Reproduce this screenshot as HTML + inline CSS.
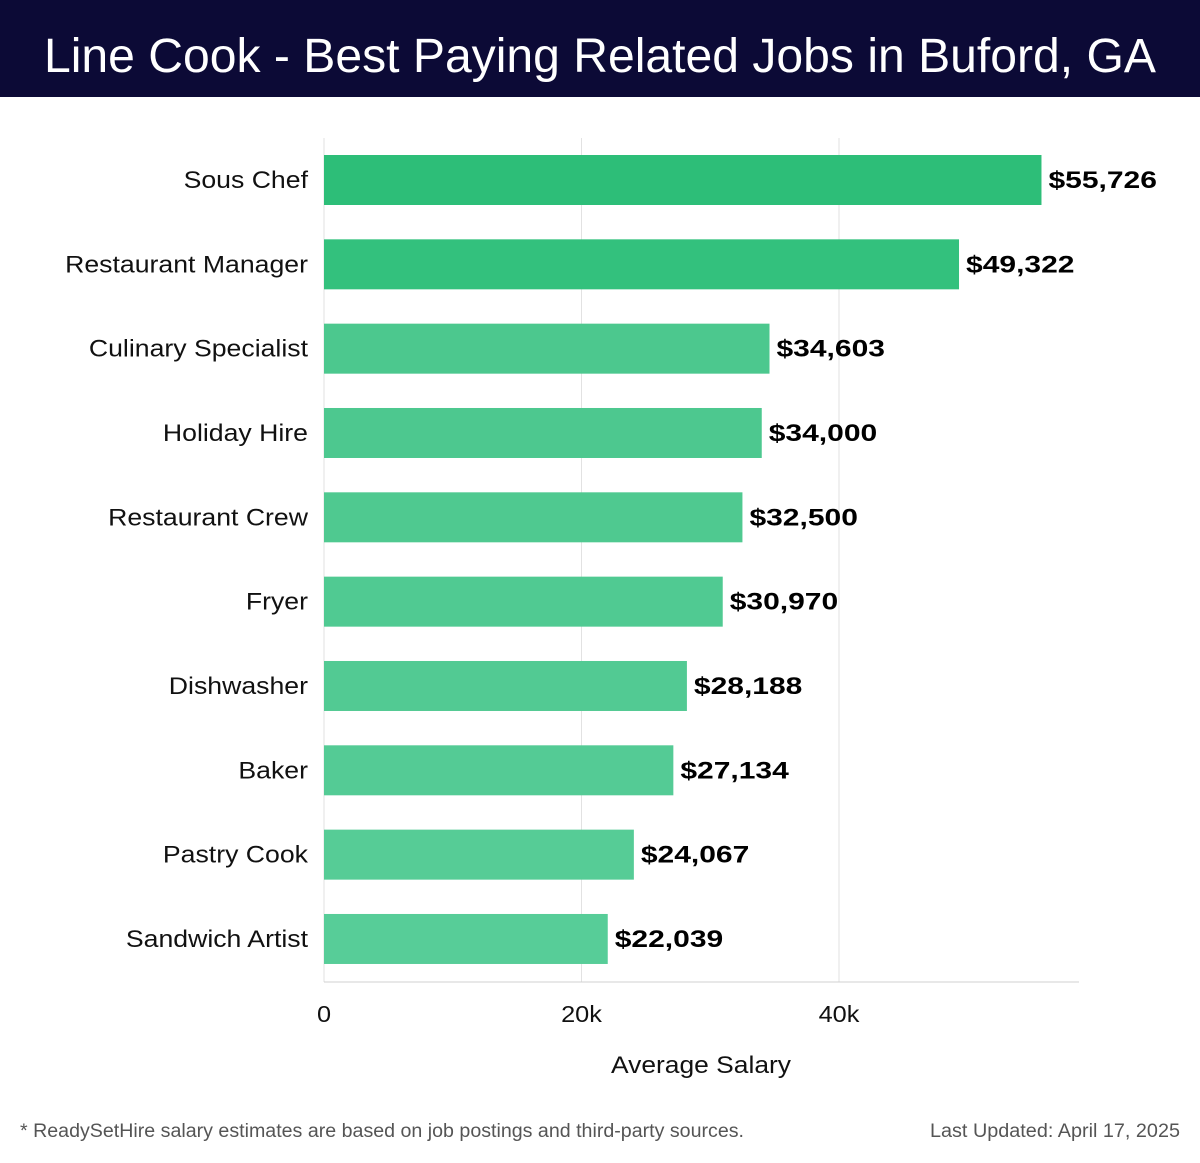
<!DOCTYPE html>
<html><head><meta charset="utf-8"><style>
body{margin:0;background:#fff;width:1200px;height:1158px;overflow:hidden;font-family:"Liberation Sans","DejaVu Sans",sans-serif}
</style></head><body>
<svg id="chart" width="1200" height="1158" xmlns="http://www.w3.org/2000/svg" font-family="Liberation Sans, DejaVu Sans, sans-serif">
<rect x="0" y="0" width="1200" height="97" fill="#0c0a36"/>
<text x="600" y="72" text-anchor="middle" fill="#fff" font-size="48" textLength="1112" lengthAdjust="spacingAndGlyphs">Line Cook - Best Paying Related Jobs in Buford, GA</text>
<g id="grid"></g><g id="bars"></g>
<text x="701" y="1073" text-anchor="middle" font-size="24" fill="#111" textLength="180" lengthAdjust="spacingAndGlyphs">Average Salary</text>
<text x="20" y="1137" font-size="19" fill="#555" textLength="724" lengthAdjust="spacingAndGlyphs">* ReadySetHire salary estimates are based on job postings and third-party sources.</text>
<text x="1180" y="1137" text-anchor="end" font-size="19" fill="#555" textLength="250" lengthAdjust="spacingAndGlyphs">Last Updated: April 17, 2025</text>
</svg>
<script>
const categories=["Sous Chef","Restaurant Manager","Culinary Specialist","Holiday Hire","Restaurant Crew","Fryer","Dishwasher","Baker","Pastry Cook","Sandwich Artist"];
const values=[55726,49322,34603,34000,32500,30970,28188,27134,24067,22039];
const labels=["$55,726","$49,322","$34,603","$34,000","$32,500","$30,970","$28,188","$27,134","$24,067","$22,039"];
const ticks=[0,20000,40000];
const tickLabels=["0","20k","40k"];
const colors=["#2dbe78","#33c17d","#4cc88e","#4dc88f","#4fc990","#50ca92","#52ca93","#54cb95","#56cc96","#57cd98"];
const NS="http://www.w3.org/2000/svg";
const x=v=>324+v*(257.5/20000);
const y=i=>155+i*84.33;
function mk(t,a,p){const e=document.createElementNS(NS,t);for(const k in a)e.setAttribute(k,a[k]);p.appendChild(e);return e;}
function widen(el,f){const w=el.getComputedTextLength();el.setAttribute('textLength',w*f);el.setAttribute('lengthAdjust','spacingAndGlyphs');}
const g=document.getElementById('grid'),b=document.getElementById('bars');
ticks.forEach((t,i)=>{
 const l=mk('line',{x1:x(t),x2:x(t),y1:138,y2:982,stroke:'#e2e2e2','stroke-width':1},g);
 
 
 const tx=mk('text',{x:x(t),y:1022,'text-anchor':'middle','font-size':23,fill:'#111'},g);
 tx.textContent=tickLabels[i];
 
 
 widen(tx,1.1);
});
const ax=mk('line',{x1:324,x2:1079,y1:982,y2:982,stroke:'#d0d0d0','stroke-width':1},g);


categories.forEach((c,i)=>{
 const r=mk('rect',{x:324,y:y(i),width:x(values[i])-324,height:50,fill:colors[i]},b);
 
 
 const cl=mk('text',{x:308,y:y(i)+33,'text-anchor':'end','font-size':24,fill:'#111'},b);
 cl.textContent=c;
 
 
 widen(cl,1.11);
 const vl=mk('text',{x:x(values[i])+7,y:y(i)+33,'font-size':24,'font-weight':'bold',fill:'#000'},b);
 vl.textContent=labels[i];
 
 
 widen(vl,1.25);
});
</script>
</body></html>
